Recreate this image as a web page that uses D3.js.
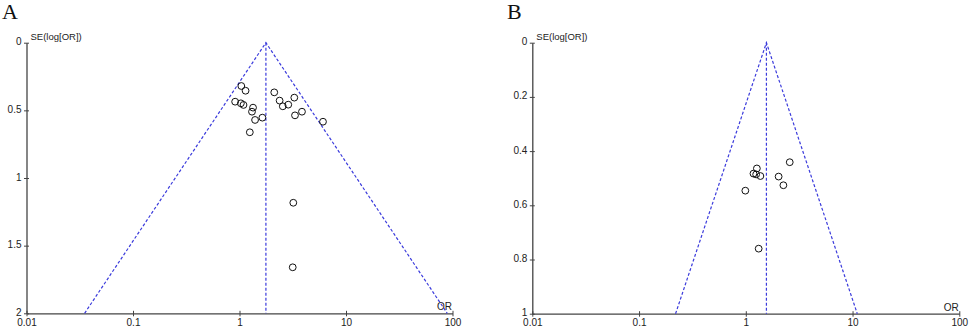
<!DOCTYPE html>
<html>
<head>
<meta charset="utf-8">
<script src="https://cdn.jsdelivr.net/npm/d3@7"></script>
<style>
  html, body { margin: 0; padding: 0; background: #fff; }
  svg { display: block; font-family: "Liberation Sans", Arial, sans-serif; }
</style>
</head>
<body>
<svg id="chart" width="969" height="328"></svg>
<script>
// Panel A: study odds ratios and standard errors
const studiesA_or = [1.04, 1.14, 0.91, 1.03, 1.09, 1.34, 1.31, 1.40, 1.64, 1.25,
  2.12, 2.38, 2.55, 2.87, 3.27, 3.32, 3.86, 6.08, 3.20, 3.16];
const studiesA_se = [0.32, 0.355, 0.436, 0.448, 0.46, 0.48, 0.51, 0.571, 0.554, 0.662,
  0.367, 0.428, 0.47, 0.458, 0.406, 0.537, 0.51, 0.584, 1.183, 1.66];
const pooledA = 1.77;

// Panel B
const studiesB_or = [1.27, 1.18, 1.25, 1.37, 0.99, 1.32, 2.03, 2.25, 2.58];
const studiesB_se = [0.464, 0.483, 0.486, 0.492, 0.546, 0.76, 0.494, 0.526, 0.441];
const pooledB = 1.56;

// Tick labels
const xTicks = [0.01, 0.1, 1, 10, 100];
const xTickLabels = ["0.01", "0.1", "1", "10", "100"];
const yTicksA = [0, 0.5, 1, 1.5, 2];
const yTickLabelsA = ["0", "0.5", "1", "1.5", "2"];
const yTicksB = [0, 0.2, 0.4, 0.6, 0.8, 1];
const yTickLabelsB = ["0", "0.2", "0.4", "0.6", "0.8", "1"];

const COLORS = {
  axis: "#444",
  text: "#222",
  funnel: "#3b3bdc",
  point: "#111",
};

const svg = d3.select("#chart");

function drawPanel(opts) {
  const g = svg.append("g");

  const x = d3.scaleLog().domain([0.01, 100]).range([opts.x0, opts.x1]);
  const y = d3.scaleLinear().domain([0, opts.seMax]).range([42.7, opts.yBottom]);

  // panel letter
  g.append("text")
    .attr("x", opts.letterX)
    .attr("y", 19)
    .style("font-family", "'Liberation Serif', 'Times New Roman', serif")
    .style("font-size", "22px")
    .style("fill", "#111")
    .text(opts.letter);

  // x axis
  const xAxis = g.append("g")
    .attr("transform", `translate(0, ${opts.yBottom})`)
    .call(d3.axisBottom(x)
      .tickValues(xTicks)
      .tickFormat((d, i) => xTickLabels[i])
      .tickSizeOuter(0));
  xAxis.select(".domain").attr("stroke", COLORS.axis).attr("stroke-width", 1.3);
  xAxis.selectAll(".tick line").attr("y1", -2.5).attr("y2", 3).attr("stroke", COLORS.axis);
  xAxis.selectAll(".tick text")
    .attr("y", 5.5)
    .style("font-size", "10px")
    .style("fill", COLORS.text);

  // y axis
  const yAxis = g.append("g")
    .attr("transform", `translate(${opts.x0}, 0)`)
    .call(d3.axisLeft(y)
      .tickValues(opts.yTicks)
      .tickFormat((d, i) => opts.yTickLabels[i])
      .tickSizeOuter(0));
  yAxis.select(".domain").attr("stroke", COLORS.axis).attr("stroke-width", 1.3);
  yAxis.selectAll(".tick line").attr("x1", -2.5).attr("x2", 2.5).attr("stroke", COLORS.axis);
  yAxis.selectAll(".tick text")
    .attr("x", -5)
    .attr("dy", "0.2em")
    .style("font-size", "10px")
    .style("fill", COLORS.text);

  // axis titles
  g.append("text")
    .attr("x", opts.x0 + 4)
    .attr("y", 40)
    .style("font-size", "9.5px")
    .style("fill", COLORS.text)
    .text("SE(log[OR])");

  g.append("text")
    .attr("x", opts.x1 - 0.5)
    .attr("y", opts.yBottom - 3)
    .attr("text-anchor", "end")
    .style("font-size", "10px")
    .style("fill", COLORS.text)
    .text("OR");

  // funnel: pseudo 95% confidence limits
  const lo = opts.pooled * Math.exp(-1.96 * opts.seMax);
  const hi = opts.pooled * Math.exp(1.96 * opts.seMax);
  const funnel = [
    [[lo, opts.seMax], [opts.pooled, 0], [hi, opts.seMax]],
    [[opts.pooled, 0], [opts.pooled, opts.seMax]],
  ];
  const line = d3.line().x((d) => x(d[0])).y((d) => y(d[1]));
  g.selectAll(".funnel")
    .data(funnel)
    .enter()
    .append("path")
    .attr("class", "funnel")
    .attr("d", line)
    .attr("fill", "none")
    .attr("stroke", COLORS.funnel)
    .attr("stroke-width", 1.2)
    .attr("stroke-dasharray", "3,2");

  // studies
  g.selectAll(".study")
    .data(opts.or.map((d, i) => ({ or: d, se: opts.se[i] })))
    .enter()
    .append("circle")
    .attr("class", "study")
    .attr("cx", (d) => x(d.or))
    .attr("cy", (d) => y(d.se))
    .attr("r", 3.4)
    .attr("fill", "none")
    .attr("stroke", COLORS.point)
    .attr("stroke-width", 1);
}

drawPanel({
  letter: "A", letterX: 2,
  x0: 26.5, x1: 452.5, yBottom: 313.3, seMax: 2,
  yTicks: yTicksA, yTickLabels: yTickLabelsA,
  or: studiesA_or, se: studiesA_se, pooled: pooledA,
});

drawPanel({
  letter: "B", letterX: 507,
  x0: 532.3, x1: 959.3, yBottom: 313.7, seMax: 1,
  yTicks: yTicksB, yTickLabels: yTickLabelsB,
  or: studiesB_or, se: studiesB_se, pooled: pooledB,
});
</script>
</body>
</html>
